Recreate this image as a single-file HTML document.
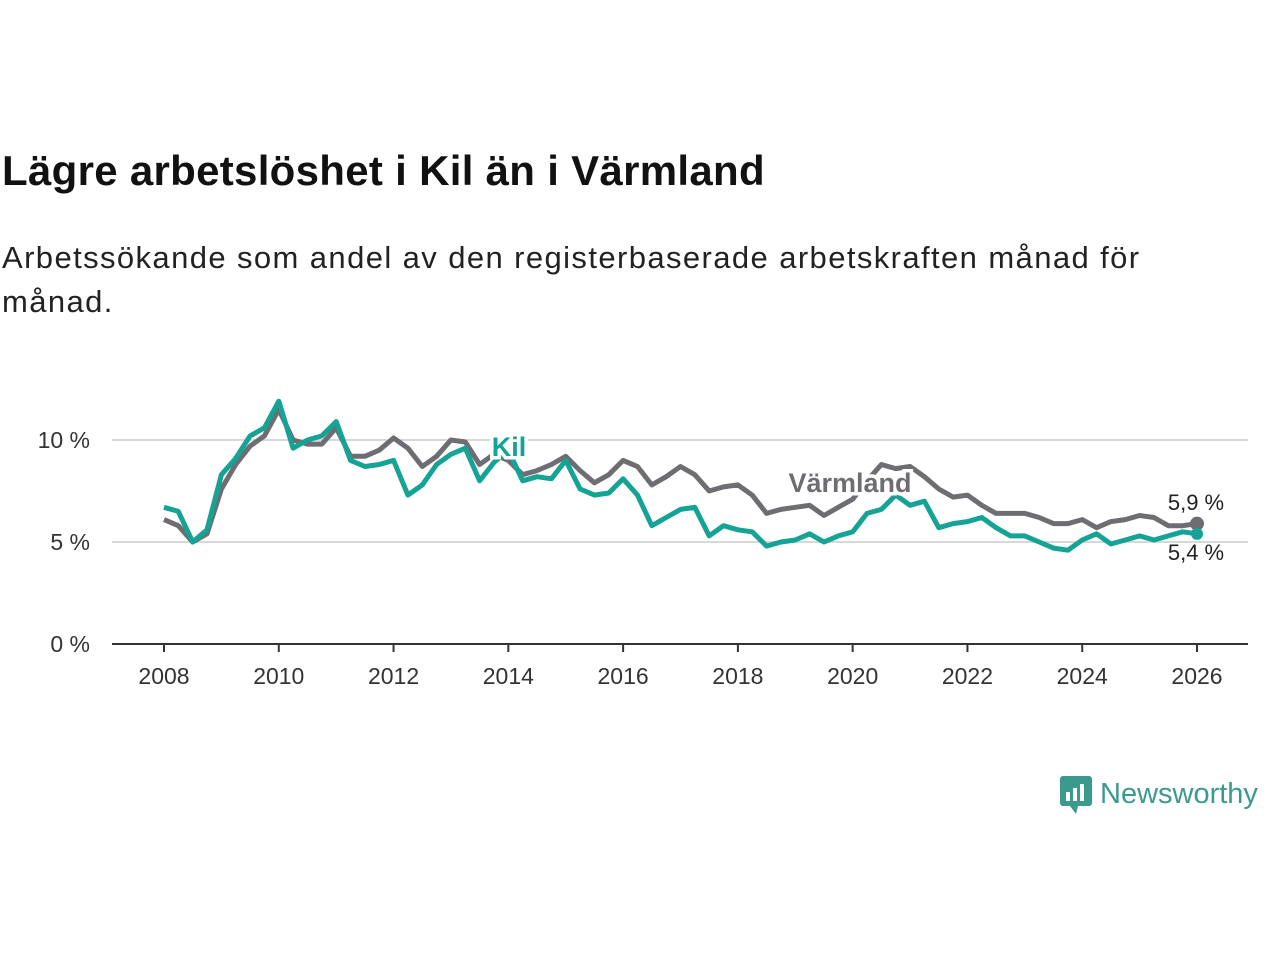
<!DOCTYPE html>
<html><head><meta charset="utf-8"><style>
body{margin:0;width:1280px;height:960px;background:#fff;font-family:"Liberation Sans",sans-serif;overflow:hidden}
h1{position:absolute;left:2px;top:147px;margin:0;font-size:42px;font-weight:bold;color:#111;letter-spacing:0.3px}
p{position:absolute;left:2px;top:236px;margin:0;font-size:31px;line-height:44px;color:#222;width:1200px;letter-spacing:1.4px}
</style></head><body>
<h1>Lägre arbetslöshet i Kil än i Värmland</h1>
<p>Arbetssökande som andel av den registerbaserade arbetskraften månad för<br>månad.</p>
<svg id="c" width="1280" height="960" style="position:absolute;left:0;top:0"></svg>
<div style="position:absolute;left:1058px;top:772px;display:flex;align-items:center">
<svg width="36" height="44"><rect x="2" y="4" width="32" height="30" rx="3" fill="#3a9a8e"/><path d="M12 34 L18 42 L20 34Z" fill="#3a9a8e"/><rect x="8" y="20" width="4" height="9" fill="#fff"/><rect x="15" y="16" width="4" height="13" fill="#fff"/><rect x="22" y="12" width="4" height="17" fill="#fff"/></svg>
<span style="font-size:29px;color:#3a9a8e;margin-left:6px">Newsworthy</span></div>
<script>
const years=[2008,2010,2012,2014,2016,2018,2020,2022,2024,2026];
const yTicks=[0,5,10];
const varmland=[6.1,5.8,5.0,5.4,7.6,8.8,9.7,10.2,11.5,10.0,9.8,9.8,10.6,9.2,9.2,9.5,10.1,9.6,8.7,9.2,10.0,9.9,8.8,9.3,9.0,8.3,8.5,8.8,9.2,8.5,7.9,8.3,9.0,8.7,7.8,8.2,8.7,8.3,7.5,7.7,7.8,7.3,6.4,6.6,6.7,6.8,6.3,6.7,7.1,8.0,8.8,8.6,8.7,8.2,7.6,7.2,7.3,6.8,6.4,6.4,6.4,6.2,5.9,5.9,6.1,5.7,6.0,6.1,6.3,6.2,5.8,5.8,5.9];
const kil=[6.7,6.5,5.0,5.6,8.3,9.1,10.2,10.6,11.9,9.6,10.0,10.2,10.9,9.0,8.7,8.8,9.0,7.3,7.8,8.8,9.3,9.6,8.0,8.9,9.5,8.0,8.2,8.1,9.0,7.6,7.3,7.4,8.1,7.3,5.8,6.2,6.6,6.7,5.3,5.8,5.6,5.5,4.8,5.0,5.1,5.4,5.0,5.3,5.5,6.4,6.6,7.3,6.8,7.0,5.7,5.9,6.0,6.2,5.7,5.3,5.3,5.0,4.7,4.6,5.1,5.4,4.9,5.1,5.3,5.1,5.3,5.5,5.4];
const svg=document.getElementById('c');const NS='http://www.w3.org/2000/svg';
const X=t=>164+(t-2008)*(1197-164)/18;const Y=v=>644-v*20.4;
function el(tag,a,txt){const e=document.createElementNS(NS,tag);for(const k in a)e.setAttribute(k,a[k]);if(txt!==undefined)e.textContent=txt;svg.appendChild(e);return e;}
yTicks.forEach(v=>{
 const g=el('line',{x1:112,x2:1248,y1:Y(v),y2:Y(v),stroke:v==0?'#333':'#d8d8d8','stroke-width':2});
 
 
 const t=el('text',{x:90,y:Y(v)+8,'text-anchor':'end','font-size':23,fill:'#333'},v+' %');
 
 
});
years.forEach(yr=>{
 const l=el('line',{x1:X(yr),x2:X(yr),y1:644,y2:652,stroke:'#333','stroke-width':2});
 
 
 const t=el('text',{x:X(yr),y:684,'text-anchor':'middle','font-size':23,fill:'#333'},yr);
 
 
});
function line(data,col,name){
 const step=18/(data.length-1);
 const d=data.map((v,i)=>(i?'L':'M')+X(2008+i*step).toFixed(1)+' '+Y(v).toFixed(1)).join(' ');
 const p=el('path',{d:d,fill:'none',stroke:col,'stroke-width':5,'stroke-linejoin':'round'});
 
 
}
line(varmland,'#6e6d72','varmland-line');
line(kil,'#14a394','kil-line');
const d1=el('circle',{cx:X(2026),cy:Y(varmland[varmland.length-1]),r:7,fill:'#6e6d72'});


const d2=el('circle',{cx:X(2026),cy:Y(kil[kil.length-1]),r:6,fill:'#14a394'});


function lab(x,y,txt,col,name,bold,sz){
 const t=el('text',{x:x,y:y,'text-anchor':'middle','font-size':sz,'font-weight':bold?'bold':'normal',fill:col,stroke:'#fff','stroke-width':bold?7:0,'paint-order':'stroke'},txt);
 
 
}
lab(509,456,'Kil','#14a394','kil-label',true,27);
lab(850,492,'Värmland','#6e6d72','varmland-label',true,27);
lab(1196,510,'5,9 %','#222','varmland-value-label',false,22);
lab(1196,560,'5,4 %','#222','kil-value-label',false,22);
</script>
</body></html>
